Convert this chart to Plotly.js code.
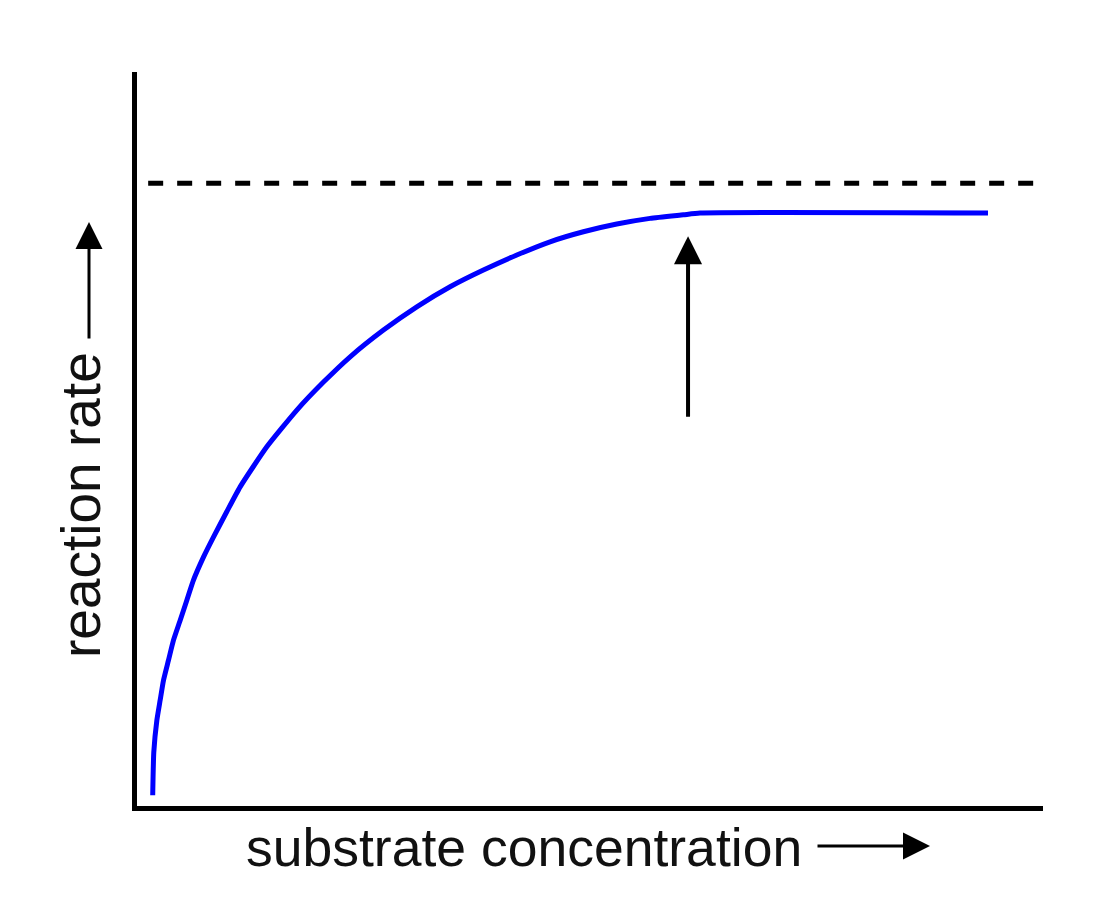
<!DOCTYPE html>
<html>
<head>
<meta charset="utf-8">
<script src="https://cdn.plot.ly/plotly-3.0.1.min.js"></script>
<style>html,body{margin:0;padding:0;background:#fff;}#chart{width:1102px;height:906px;}</style>
</head>
<body>
<div id="chart"></div>
<script>
// Curve values (arbitrary units, axes 0-10)
var substrate = [0.193, 0.205, 0.239, 0.275, 0.312, 0.367, 0.422, 0.496, 0.569, 0.642, 0.752, 0.862, 1.010, 1.156, 1.450, 1.781, 2.074, 2.368, 2.735, 3.102, 3.469, 3.836, 4.204, 4.570, 4.937, 5.305, 5.672, 6.038, 6.222, 9.394];
var rate      = [0.177, 0.760, 1.196, 1.467, 1.739, 2.011, 2.283, 2.554, 2.826, 3.098, 3.410, 3.682, 4.030, 4.365, 4.909, 5.408, 5.788, 6.132, 6.495, 6.811, 7.083, 7.310, 7.514, 7.694, 7.830, 7.935, 8.012, 8.060, 8.084, 8.084];
var vmaxX = [0.143, 10];
var vmaxY = [8.49, 8.49];
var markerX = 6.09;      // position of the upward arrow
var markerTipY = 7.77;   // arrow tip level
var xTitle = 'substrate concentration';
var yTitle = 'reaction rate';

var traces = [
  {x: vmaxX, y: vmaxY, mode: 'lines', line: {color: '#000', width: 5, dash: '15px,14px'}, hoverinfo: 'skip', cliponaxis: false},
  {x: substrate, y: rate, mode: 'lines', line: {color: '#0000ff', width: 5, shape: 'spline', smoothing: 0.5}, hoverinfo: 'skip', cliponaxis: false}
];

var axisBase = {showgrid: false, zeroline: false, showticklabels: false, ticks: '', showline: true, linecolor: '#000', linewidth: 5, fixedrange: true};

var layout = {
  width: 1102, height: 906,
  margin: {l: 137, r: 59, t: 72, b: 100},
  paper_bgcolor: '#fff', plot_bgcolor: '#fff',
  showlegend: false,
  font: {family: 'Liberation Sans, Arial, sans-serif', color: '#111'},
  xaxis: Object.assign({range: [0.02, 10]}, axisBase),
  yaxis: Object.assign({range: [0.03, 10]}, axisBase),
  annotations: [
    {xref: 'x', yref: 'y', x: markerX, y: markerTipY, ax: 0, ay: 182, text: '', showarrow: true,
     arrowhead: 2, arrowwidth: 4, arrowsize: 1.4, arrowcolor: '#000'},
    {xref: 'paper', yref: 'paper', x: (524 - 137) / 906, y: -0.056, text: xTitle, showarrow: false,
     xanchor: 'center', yanchor: 'middle', font: {size: 53.5, color: '#111'}},
    {xref: 'paper', yref: 'paper', x: (930 - 137) / 906, y: (806 - 846) / 734, ax: -114, ay: 0, text: '', showarrow: true,
     arrowhead: 2, arrowwidth: 3, arrowsize: 1.8, arrowcolor: '#000'},
    {xref: 'paper', yref: 'paper', x: (81 - 137) / 906, y: (806 - 505) / 734, text: yTitle, showarrow: false, textangle: -90,
     xanchor: 'center', yanchor: 'middle', font: {size: 55, color: '#111'}},
    {xref: 'paper', yref: 'paper', x: (89 - 137) / 906, y: (806 - 222) / 734, ax: 0, ay: 118, text: '', showarrow: true,
     arrowhead: 2, arrowwidth: 3, arrowsize: 1.8, arrowcolor: '#000'}
  ]
};

Plotly.newPlot('chart', traces, layout, {displayModeBar: false, staticPlot: true});
</script>
</body>
</html>
